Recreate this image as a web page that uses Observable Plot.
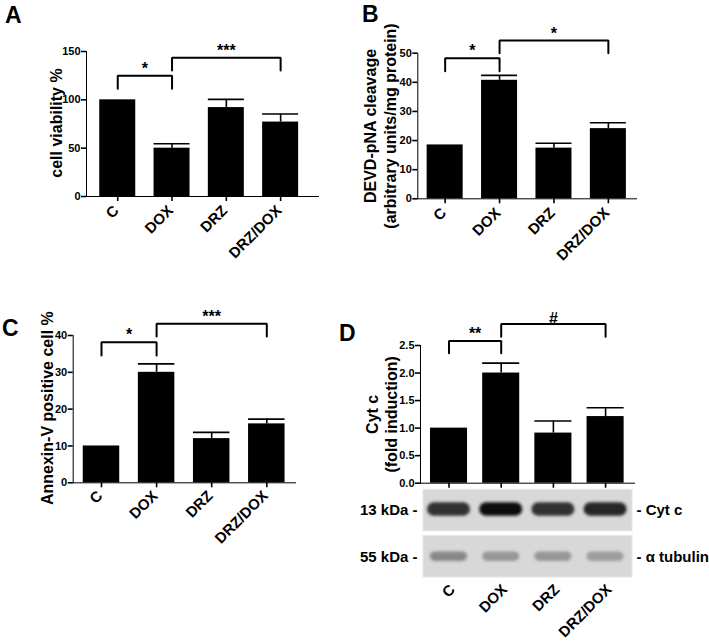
<!DOCTYPE html>
<html><head><meta charset="utf-8">
<script src="https://cdn.jsdelivr.net/npm/d3@7"></script>
<script src="https://cdn.jsdelivr.net/npm/@observablehq/plot@0.6"></script>
<style>
html,body{margin:0;padding:0;background:#fff;}
#fig{position:relative;width:709px;height:642px;overflow:hidden;font-family:"Liberation Sans",Arial,sans-serif;}
.panel{position:absolute;}
.panel svg{overflow:visible;}
.letter{position:absolute;font-weight:bold;font-size:23px;line-height:1;color:#000;}
#fig svg g[aria-label^="x-axis"] path, #fig svg g[aria-label^="x-axis"] line,
#fig svg g[aria-label^="y-axis"] path, #fig svg g[aria-label^="y-axis"] line { stroke-width:1.6px; }
</style></head><body><div id="fig"></div>
<script>
// ---- data ----
const categories = ["C", "DOX", "DRZ", "DRZ/DOX"];

const viability = [100, 50, 92, 77];
const viabilitySem = [0, 4.5, 8.5, 8.3];
const viabilityTicks = [0, 50, 100, 150];

const devd = [18.5, 40.7, 17.4, 24.1];
const devdSem = [0, 1.7, 1.7, 2.0];
const devdTicks = [0, 10, 20, 30, 40, 50];

const annexin = [10, 30, 12, 16];
const annexinSem = [0, 2.3, 1.7, 1.3];
const annexinTicks = [0, 10, 20, 30, 40];

const cytc = [1.0, 2.0, 0.91, 1.21];
const cytcSem = [0, 0.18, 0.22, 0.16];
const cytcTicks = [0, 0.5, 1.0, 1.5, 2.0, 2.5];

const bracketsA = [
  {from: "C", to: "DOX", top: 125, leg: 111.5, label: "*"},
  {from: "DOX", to: "DRZ/DOX", top: 143.6, leg: 130.4, label: "***"}
];
const bracketsB = [
  {from: "C", to: "DOX", top: 48.3, leg: 43.8, label: "*"},
  {from: "DOX", to: "DRZ/DOX", top: 54.4, leg: 50, label: "*"}
];
const bracketsC = [
  {from: "C", to: "DOX", top: 38.2, leg: 34.6, label: "*"},
  {from: "DOX", to: "DRZ/DOX", top: 43.2, leg: 39.7, label: "***"}
];
const bracketsD = [
  {from: "C", to: "DOX", top: 2.58, leg: 2.36, label: "**"},
  {from: "DOX", to: "DRZ/DOX", top: 2.89, leg: 2.66, label: "#"}
];

const blotRows = ["Cyt c", "α tubulin"];
const blotMarkers = ["13 kDa", "55 kDa"];
const cytcBandIntensity = [0.84, 0.95, 0.84, 0.88];
const tubulinBandIntensity = [0.55, 0.5, 0.5, 0.48];

const letters = ["A", "B", "C", "D"];

// ---- helpers ----
const FONT = "Liberation Sans, Arial, Helvetica, sans-serif";
const fig = document.getElementById("fig");

function place(node, left, top) {
  const div = document.createElement("div");
  div.className = "panel";
  div.style.left = left + "px";
  div.style.top = top + "px";
  div.appendChild(node);
  fig.appendChild(div);
}

function barPanel(cfg) {
  const rows = categories.map((c, i) => ({cat: c, v: cfg.values[i], s: cfg.sem[i], e: cfg.values[i] + cfg.sem[i]}));
  const errs = rows.filter(d => d.s > 0);
  const step = (cfg.width - cfg.mL - cfg.mR) / (categories.length - cfg.pi + 2 * cfg.po);
  const pts = [];
  cfg.brackets.forEach((b, k) => {
    pts.push({id: k, x: b.from, y: b.leg}, {id: k, x: b.from, y: b.top},
             {id: k, x: b.to, y: b.top}, {id: k, x: b.to, y: b.leg});
  });
  const marks = [
    Plot.barY(rows, {x: "cat", y: "v", fill: "black"}),
    Plot.ruleX(errs, {x: "cat", y1: "v", y2: "e", stroke: "black", strokeWidth: 1.6}),
    Plot.tickY(errs, {x: "cat", y: "e", stroke: "black", strokeWidth: 1.6}),
    Plot.line(pts, {x: "x", y: "y", z: "id", stroke: "black", strokeWidth: 2, strokeLinejoin: "miter", curve: "linear"})
  ];
  cfg.brackets.forEach(b => {
    const span = categories.indexOf(b.to) - categories.indexOf(b.from);
    marks.push(Plot.text([b], {x: "from", y: "top", text: "label", dx: span * step / 2,
      dy: b.label === "#" ? -5 : -7, fontSize: b.label === "#" ? 16 : 16, fill: "black"}));
  });
  marks.push(Plot.text([cfg.ylabel], {text: d => d, frameAnchor: "left", rotate: -90, textAnchor: "middle",
    dx: cfg.labelDx, dy: cfg.labelDy, fontSize: 16, lineHeight: cfg.lineHeight || 1.2, fill: "black"}));
  if (cfg.xLabels) {
    marks.push(Plot.text(categories, {x: d => d, text: d => d, frameAnchor: "bottom", rotate: -45,
      textAnchor: "end", dx: cfg.xdx, dy: cfg.xdy, fontSize: 15, fill: "black"}));
  }
  const svg = Plot.plot({
    width: cfg.width, height: cfg.height,
    marginLeft: cfg.mL, marginRight: cfg.mR, marginTop: cfg.mT, marginBottom: cfg.mB,
    style: {fontFamily: FONT, fontWeight: "bold", fontSize: "11px", background: "none", color: "black"},
    x: {domain: categories, paddingInner: cfg.pi, paddingOuter: cfg.po, align: cfg.align, round: false,
        tickSize: 5, tickFormat: () => "", line: true, label: null},
    y: {domain: cfg.yDomain, ticks: cfg.ticks, tickFormat: cfg.fmt, tickSize: 5, tickPadding: 1,
        line: true, label: null},
    marks
  });
  place(svg, cfg.left, cfg.top);
}

barPanel({left: 0, top: 0, width: 355, height: 300, mL: 86, mR: 37, mT: 51, mB: 104,
  pi: 0.337, po: 0.305, align: 0.40, values: viability, sem: viabilitySem,
  yDomain: [0, 150], ticks: viabilityTicks, fmt: d3.format("d"), brackets: bracketsA,
  ylabel: "cell viability %", labelDx: -30.5, labelDy: -1, xLabels: true, xdx: 2, xdy: 15});

barPanel({left: 355, top: 0, width: 354, height: 300, mL: 62.3, mR: 73, mT: 52.7, mB: 101.7,
  pi: 0.338, po: 0.179, align: 0.48, values: devd, sem: devdSem,
  yDomain: [0, 50], ticks: devdTicks, fmt: d3.format("d"), brackets: bracketsB,
  ylabel: "DEVD-pNA cleavage\n(arbitrary units/mg protein)", labelDx: -38.6, labelDy: 0, lineHeight: 1.28,
  xLabels: true, xdx: 2, xdy: 15});

barPanel({left: 0, top: 300, width: 355, height: 342, mL: 72.7, mR: 60, mT: 35, mB: 159.7,
  pi: 0.338, po: 0.186, align: 0.49, values: annexin, sem: annexinSem,
  yDomain: [0, 40], ticks: annexinTicks, fmt: d3.format("d"), brackets: bracketsC,
  ylabel: "Annexin-V positive cell %", labelDx: -26.5, labelDy: -1, xLabels: true, xdx: 2, xdy: 14});

barPanel({left: 355, top: 300, width: 354, height: 188, mL: 65, mR: 75, mT: 45, mB: 5.3,
  pi: 0.29, po: 0.195, align: 0.49, values: cytc, sem: cytcSem,
  yDomain: [0, 2.5], ticks: cytcTicks, fmt: d3.format(".1f"), brackets: bracketsD,
  ylabel: "Cyt c\n(fold induction)", labelDx: -39, labelDy: 0, lineHeight: 1.15, xLabels: false});

// ---- western blot ----
(function () {
  const rowData = blotRows.map((r, i) => ({row: r, marker: blotMarkers[i]}));
  const cytBands = categories.map((c, i) => ({lane: c, row: blotRows[0], k: cytcBandIntensity[i]}));
  const tubBands = categories.map((c, i) => ({lane: c, row: blotRows[1], k: tubulinBandIntensity[i]}));
  const svg = Plot.plot({
    width: 354, height: 154, marginLeft: 65, marginRight: 75, marginTop: 1.3, marginBottom: 65,
    style: {fontFamily: FONT, fontWeight: "bold", fontSize: "10px", background: "none", color: "black"},
    x: {domain: categories, paddingInner: 0.29, paddingOuter: 0.195, align: 0.49, round: false, axis: null},
    y: {domain: blotRows, paddingInner: 0.1, paddingOuter: 0, round: false, axis: null},
    marks: [
      Plot.cell(rowData, {y: "row", fill: "#d8d8d8", stroke: "#e6e6e6", insetLeft: 3, insetRight: 2}),
      Plot.cell(cytBands, {x: "lane", y: "row", fill: d => d3.interpolateGreys(d.k),
        insetTop: 13, insetBottom: 15, insetLeft: -3, insetRight: -3, rx: 7}),
      Plot.cell(tubBands, {x: "lane", y: "row", fill: d => d3.interpolateGreys(d.k),
        insetTop: 16, insetBottom: 16, insetLeft: 0, insetRight: 0, rx: 5}),
      Plot.text(rowData, {y: "row", text: d => d.marker + " -", frameAnchor: "left", textAnchor: "end",
        dx: -3, fontSize: 15, fill: "black"}),
      Plot.text(rowData, {y: "row", text: d => "- " + d.row, frameAnchor: "right", textAnchor: "start",
        dx: 2, fontSize: 15, fill: "black"}),
      Plot.text(categories, {x: d => d, text: d => d, frameAnchor: "bottom", rotate: -45,
        textAnchor: "end", dx: 7, dy: 13, fontSize: 15, fill: "black"})
    ]
  });
  const s = d3.select(svg);
  const defs = s.insert("defs", ":first-child");
  defs.append("filter").attr("id", "blotblur").attr("x", "-20%").attr("y", "-50%").attr("width", "140%").attr("height", "200%")
    .append("feGaussianBlur").attr("stdDeviation", 1.8);
  s.selectAll('g[aria-label="cell"]').filter((d, i) => i > 0).attr("filter", "url(#blotblur)");
  place(svg, 355, 488);
})();

// ---- panel letters ----
const letterPos = [[5, 4], [362, 3], [2, 317], [339, 322]];
letters.forEach((l, i) => {
  const d = document.createElement("div");
  d.className = "letter";
  d.textContent = l;
  d.style.left = letterPos[i][0] + "px";
  d.style.top = letterPos[i][1] + "px";
  fig.appendChild(d);
});
</script>
</body></html>
